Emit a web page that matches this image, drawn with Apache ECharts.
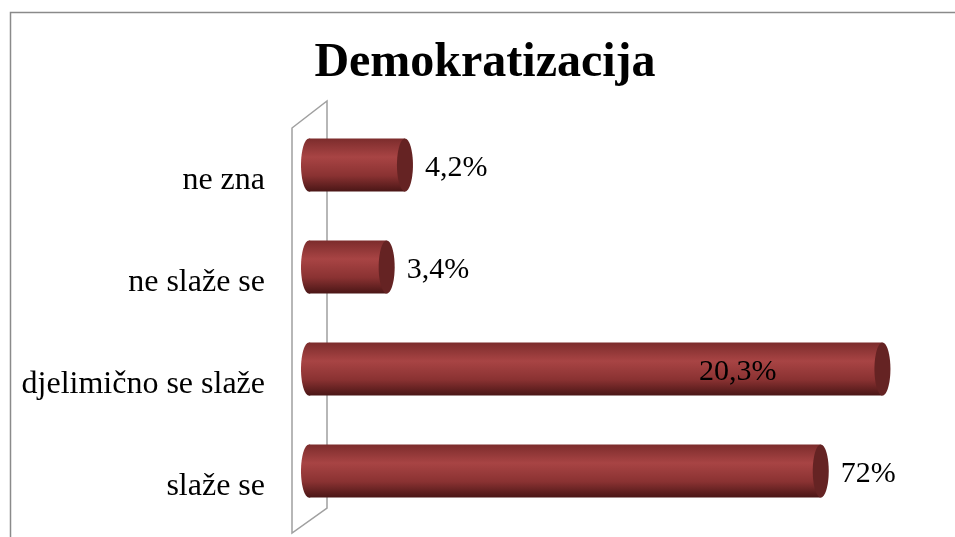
<!DOCTYPE html>
<html>
<head>
<meta charset="utf-8">
<script src="https://cdn.jsdelivr.net/npm/echarts@6/dist/echarts.min.js"></script>
<style>
  html, body { margin: 0; padding: 0; background: #fff; }
  #chart { width: 955px; height: 537px; }
</style>
</head>
<body>
<div id="chart"></div>
<script>
// kategorije odozdo prema gore
const categories = ['slaže se', 'djelimično se slaže', 'ne slaže se', 'ne zna'];
// duljine valjaka kako su nacrtane na slici
const barValues  = [22.4, 25.1, 3.4, 4.2];
// tekst oznaka kako piše na slici
const labelTexts = ['72%', '20,3%', '3,4%', '4,2%'];
const labelInside = [false, true, false, false];

const chart = echarts.init(document.getElementById('chart'));

const seriesData = barValues.map((v, i) => [v, i, labelTexts[i], labelInside[i] ? 1 : 0]);

function renderCylinder(params, api) {
  const v = api.value(0);
  const c = api.value(1);
  const start = api.coord([0, c]);
  const end = api.coord([v, c]);
  const h = api.size([0, 1])[1] * 0.52;
  const rx = 8, ry = h / 2;
  const top = start[1] - h / 2;
  const grad = () => new echarts.graphic.LinearGradient(0, 0, 0, 1, [
    { offset: 0,    color: '#7c2c2c' },
    { offset: 0.35, color: '#a84444' },
    { offset: 0.7,  color: '#8a3232' },
    { offset: 1,    color: '#4a1616' }
  ]);
  const inside = api.value(3) === 1;
  const txt = labelTexts[params.dataIndex];
  return {
    type: 'group',
    children: [
      { type: 'ellipse', shape: { cx: start[0], cy: start[1], rx: rx, ry: ry }, style: { fill: grad() } },
      { type: 'rect', shape: { x: start[0], y: top, width: end[0] - start[0], height: h }, style: { fill: grad() } },
      { type: 'ellipse', shape: { cx: end[0], cy: end[1], rx: rx, ry: ry }, style: { fill: '#652323' } },
      {
        type: 'text',
        x: inside ? end[0] - 106 : end[0] + rx + 12,
        y: end[1] + 3,
        style: {
          text: txt,
          fill: '#000',
          font: '30px "Liberation Serif", "Times New Roman", serif',
          align: inside ? 'right' : 'left',
          verticalAlign: 'middle'
        }
      }
    ]
  };
}

const option = {
  animation: false,
  backgroundColor: '#fff',
  title: {
    text: 'Demokratizacija',
    left: 480,
    textAlign: 'center',
    top: 35,
    textStyle: {
      fontFamily: '"Liberation Serif", "Times New Roman", serif',
      fontSize: 48,
      fontWeight: 'bold',
      color: '#000'
    }
  },
  graphic: [
    {
      type: 'rect',
      shape: { x: 10.5, y: 12.5, width: 1000, height: 600 },
      style: { fill: 'none', stroke: '#8a8a8a', lineWidth: 1.5 },
      z: -10
    },
    {
      type: 'polygon',
      shape: { points: [[292, 128], [327, 101], [327, 508], [292, 533]] },
      style: { fill: 'none', stroke: '#a0a0a0', lineWidth: 1.5 },
      z: -10
    }
  ],
  grid: { left: 309, right: 52, top: 114, bottom: 15 },
  xAxis: { type: 'value', min: 0, max: 26, show: false },
  yAxis: {
    type: 'category',
    data: categories,
    axisLine: { show: false },
    axisTick: { show: false },
    splitLine: { show: false },
    axisLabel: {
      margin: 44,
      verticalAlign: 'top',
      lineHeight: 32,
      fontSize: 32,
      fontFamily: '"Liberation Serif", "Times New Roman", serif',
      color: '#000'
    }
  },
  series: [{
    type: 'custom',
    renderItem: renderCylinder,
    encode: { x: 0, y: 1 },
    data: seriesData
  }]
};

chart.setOption(option);
</script>
</body>
</html>
